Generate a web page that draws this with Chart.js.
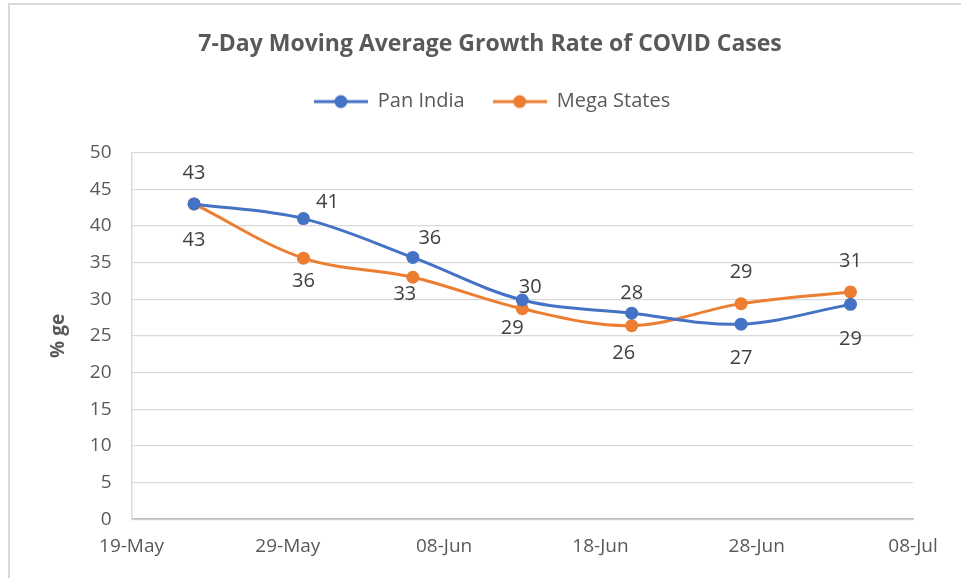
<!DOCTYPE html>
<html>
<head>
<meta charset="utf-8">
<script src="https://cdn.jsdelivr.net/npm/chart.js@4"></script>
<style>
  html, body { margin: 0; padding: 0; background: #fff; }
  #wrap { width: 961px; height: 578px; }
</style>
</head>
<body>
<div id="wrap"><canvas id="myChart" width="961" height="578"></canvas></div>
<script>
// data
const dates = ['2020-05-23', '2020-05-30', '2020-06-06', '2020-06-13', '2020-06-20', '2020-06-27', '2020-07-04'];
const panIndia = [43.0, 41.0, 35.7, 29.9, 28.1, 26.6, 29.3];
const megaStates = [43.0, 35.6, 33.0, 28.7, 26.4, 29.4, 31.0];
const axisStart = '2020-05-19';
const axisDays = 50;
const yTicks = [0, 5, 10, 15, 20, 25, 30, 35, 40, 45, 50];

// where each value label sits relative to its point (dx, dy)
const panLabelShift = [[0, -31], [24, -16], [17, -19], [8, -13], [0, -20], [0, 34], [0, 35]];
const megaLabelShift = [[0, 36], [0, 23], [-8, 17], [-10, 20], [-8, 28], [0, -31], [0, -31]];

const blue = '#4472C4';
const orange = '#ED7D31';
const textGrey = '#595959';
const FONT = '"Open Sans", sans-serif';

const dayMs = 86400000;
const t0 = Date.parse(axisStart);
const months = ['Jan', 'Feb', 'Mar', 'Apr', 'May', 'Jun', 'Jul', 'Aug', 'Sep', 'Oct', 'Nov', 'Dec'];
function dayOffset(s) { return Math.round((Date.parse(s) - t0) / dayMs); }
function fmtDay(v) {
	let d = new Date(t0 + v * dayMs);
	let dd = String(d.getUTCDate()).padStart(2, '0');
	return dd + '-' + months[d.getUTCMonth()];
}
function points(vals) {
	return vals.map((v, i) => ({x: dayOffset(dates[i]), y: v}));
}

function legendIcon(color) {
	let c = document.createElement('canvas');
	c.width = 54; c.height = 16;
	let g = c.getContext('2d');
	g.strokeStyle = color;
	g.lineWidth = 3;
	g.beginPath(); g.moveTo(0, 8); g.lineTo(54, 8); g.stroke();
	g.fillStyle = color;
	g.beginPath(); g.arc(27, 8, 6.5, 0, Math.PI * 2); g.fill();
	return c;
}
const icons = [legendIcon(blue), legendIcon(orange)];

const labelShifts = [panLabelShift, megaLabelShift];
const valueLabels = {
	id: 'valueLabels',
	afterDatasetsDraw(chart) {
		const ctx = chart.ctx;
		ctx.save();
		ctx.font = '20px ' + FONT;
		ctx.fillStyle = '#404040';
		ctx.textAlign = 'center';
		ctx.textBaseline = 'middle';
		chart.data.datasets.forEach((ds, di) => {
			chart.getDatasetMeta(di).data.forEach((pt, i) => {
				let s = labelShifts[di][i];
				ctx.fillText(Math.round(ds.data[i].y), pt.x + s[0], pt.y + s[1]);
			});
		});
		ctx.restore();
	}
};

const frame = {
	id: 'frame',
	beforeDraw(chart) {
		const ctx = chart.ctx;
		ctx.save();
		ctx.fillStyle = '#fff';
		ctx.fillRect(0, 0, chart.width, chart.height);
		ctx.strokeStyle = '#d9d9d9';
		ctx.lineWidth = 2;
		ctx.beginPath();
		ctx.moveTo(9, chart.height);
		ctx.lineTo(9, 4);
		ctx.lineTo(chart.width, 4);
		ctx.stroke();
		ctx.restore();
	}
};

// extra room under the legend, and header nudged right like the original
function nudge(box, dx) {
	const draw = box.draw;
	box.draw = function (area) {
		this.ctx.save();
		this.ctx.translate(dx, 0);
		draw.call(this, area);
		this.ctx.restore();
	};
}
const headerTweaks = {
	id: 'headerTweaks',
	beforeInit(chart) {
		const fit = chart.legend.fit;
		chart.legend.fit = function () {
			fit.bind(chart.legend)();
			this.height += 31;
		};
		nudge(chart.legend, 17);
		nudge(chart.titleBlock, 15);
	}
};

const myChart = document.getElementById('myChart');
let lineChart = new Chart(myChart, {
	type: 'line',
	data: {
		datasets: [{
			label: 'Pan India',
			data: points(panIndia),
			borderColor: blue,
			backgroundColor: blue,
			borderWidth: 3,
			pointRadius: 6.5,
			pointHoverRadius: 6.5,
			pointBorderWidth: 0,
			tension: 0.35
		}, {
			label: 'Mega States',
			data: points(megaStates),
			borderColor: orange,
			backgroundColor: orange,
			borderWidth: 3,
			pointRadius: 6.5,
			pointHoverRadius: 6.5,
			pointBorderWidth: 0,
			tension: 0.35
		}]
	},
	options: {
		responsive: false,
		animation: false,
		layout: {padding: {left: 37, right: 48, top: 31, bottom: 12}},
		plugins: {
			title: {
				display: true,
				text: '7-Day Moving Average Growth Rate of COVID Cases',
				color: textGrey,
				font: {family: FONT, size: 23, weight: 'bold'},
				padding: {top: 0, bottom: 5}
			},
			legend: {
				labels: {
					color: textGrey,
					font: {family: FONT, size: 20},
					usePointStyle: true,
					pointStyleWidth: 54,
					padding: 28,
					generateLabels(chart) {
						return chart.data.datasets.map((ds, i) => ({
							text: ds.label,
							fontColor: textGrey,
							pointStyle: icons[i],
							datasetIndex: i,
							lineWidth: 0,
							strokeStyle: 'transparent',
							fillStyle: 'transparent'
						}));
					}
				}
			},
			tooltip: {enabled: false}
		},
		scales: {
			x: {
				type: 'linear',
				min: 0,
				max: axisDays,
				ticks: {
					stepSize: 10,
					color: textGrey,
					font: {family: FONT, size: 19},
					padding: 8,
					callback: v => fmtDay(v)
				},
				grid: {display: false},
				border: {display: true, color: '#bfbfbf', width: 1.5}
			},
			y: {
				min: 0,
				max: 50,
				afterBuildTicks: axis => { axis.ticks = yTicks.map(v => ({value: v})); },
				ticks: {
					color: textGrey,
					font: {family: FONT, size: 19},
					padding: 20
				},
				grid: {color: '#d9d9d9', lineWidth: 1.3, drawTicks: false},
				border: {display: true, color: '#d9d9d9', width: 1.5},
				title: {
					display: true,
					text: '% ge',
					color: textGrey,
					font: {family: FONT, size: 19, weight: 'bold'},
					padding: {top: 10, bottom: 0}
				}
			}
		}
	},
	plugins: [frame, headerTweaks, valueLabels]
});
</script>
</body>
</html>
